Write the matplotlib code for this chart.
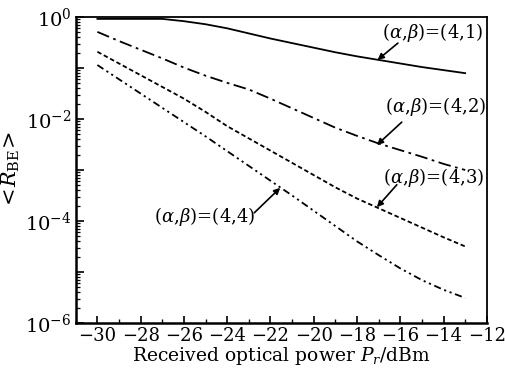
import math
import matplotlib
matplotlib.use("Agg")
import matplotlib.pyplot as plt
from matplotlib.ticker import LogLocator, MultipleLocator, NullFormatter, FuncFormatter

plt.rcParams["font.family"] = "DejaVu Serif"
plt.rcParams["mathtext.fontset"] = "dejavuserif"

# received optical power (dBm)
power = [-30, -29, -28, -27, -26, -25, -24, -23, -22, -21,
         -20, -19, -18, -17, -16, -15, -14, -13]

# log10 of <R_BE>
log_r41 = [-0.035, -0.035, -0.035, -0.035, -0.08, -0.14, -0.22, -0.32, -0.42, -0.51,
           -0.60, -0.69, -0.77, -0.84, -0.91, -0.98, -1.04, -1.10]
log_r42 = [-0.29, -0.47, -0.64, -0.81, -0.99, -1.15, -1.29, -1.42, -1.60, -1.79,
           -1.98, -2.17, -2.33, -2.48, -2.61, -2.74, -2.88, -3.00]
log_r43 = [-0.68, -0.91, -1.14, -1.37, -1.60, -1.86, -2.14, -2.38, -2.62, -2.86,
           -3.10, -3.34, -3.56, -3.75, -3.94, -4.13, -4.32, -4.50]
log_r44 = [-0.94, -1.22, -1.50, -1.78, -2.06, -2.34, -2.63, -2.92, -3.21, -3.50,
           -3.80, -4.10, -4.40, -4.67, -4.93, -5.16, -5.35, -5.51]

series = [
    (log_r41, "-"),
    (log_r42, (0, (7, 2.5, 1.5, 2.5))),
    (log_r43, (0, (2.5, 1.5))),
    (log_r44, (0, (4, 2, 1.2, 2, 1.2, 2))),
]

# label, text left/centre (x, log y), arrow start, arrow tip
notes = [
    ("(4,1)", (-16.85, -0.31), (-16.11, -0.51), (-17.05, -0.84)),
    ("(4,2)", (-16.71, -1.76), (-15.93, -2.06), (-17.08, -2.51)),
    ("(4,3)", (-16.80, -3.14), (-16.16, -3.29), (-17.08, -3.73)),
    ("(4,4)", (-27.37, -3.92), (-22.75, -3.84), (-21.55, -3.35)),
]

fig = plt.figure(figsize=(5.05, 3.72), dpi=100)
ax = fig.add_axes([0.150, 0.132, 0.814, 0.822])

for logs, ls in series:
    ax.plot(power, [10 ** v for v in logs], color="black", linestyle=ls, linewidth=1.3)

ax.set_yscale("log")
ax.set_xlim(-31, -12)
ax.set_ylim(1e-6, 1)
ax.xaxis.set_major_locator(MultipleLocator(2))
ax.xaxis.set_minor_locator(MultipleLocator(1))
ax.yaxis.set_major_locator(LogLocator(base=10, subs=(1.0,), numticks=20))
ax.yaxis.set_major_formatter(FuncFormatter(
    lambda v, _: "" if round(math.log10(v)) % 2 else r"$10^{%d}$" % round(math.log10(v))))
ax.yaxis.set_minor_locator(LogLocator(base=10, subs=[2, 3, 4, 5, 6, 7, 8, 9], numticks=100))
ax.yaxis.set_minor_formatter(NullFormatter())

ax.tick_params(which="both", direction="in", top=False, right=False)
ax.tick_params(axis="x", which="major", length=5, width=1.2, labelsize=13, pad=3)
ax.tick_params(axis="x", which="minor", length=3, width=1.0)
ax.tick_params(axis="y", which="major", length=6, width=1.2, labelsize=14, pad=3)
ax.tick_params(axis="y", which="minor", length=3, width=0.9)
for side in ["left", "bottom"]:
    ax.spines[side].set_linewidth(1.8)
for side in ["top", "right"]:
    ax.spines[side].set_linewidth(1.3)

ax.set_xlabel(r"Received optical power $P_r$/dBm", fontsize=13.5, labelpad=0)
ax.set_ylabel(r"$<\!R_{\rm BE}\!>$", fontsize=15, labelpad=2)

for lab, txt, start, tip in notes:
    ax.text(txt[0], 10 ** txt[1], r"$(\alpha,\!\beta)$=" + lab, fontsize=13,
            ha="left", va="center")
    ax.annotate("", xy=(tip[0], 10 ** tip[1]), xytext=(start[0], 10 ** start[1]),
                arrowprops=dict(arrowstyle="-|>", color="black", lw=1.2,
                                mutation_scale=9, shrinkA=0, shrinkB=0))

fig.savefig("out.png", dpi=100)
